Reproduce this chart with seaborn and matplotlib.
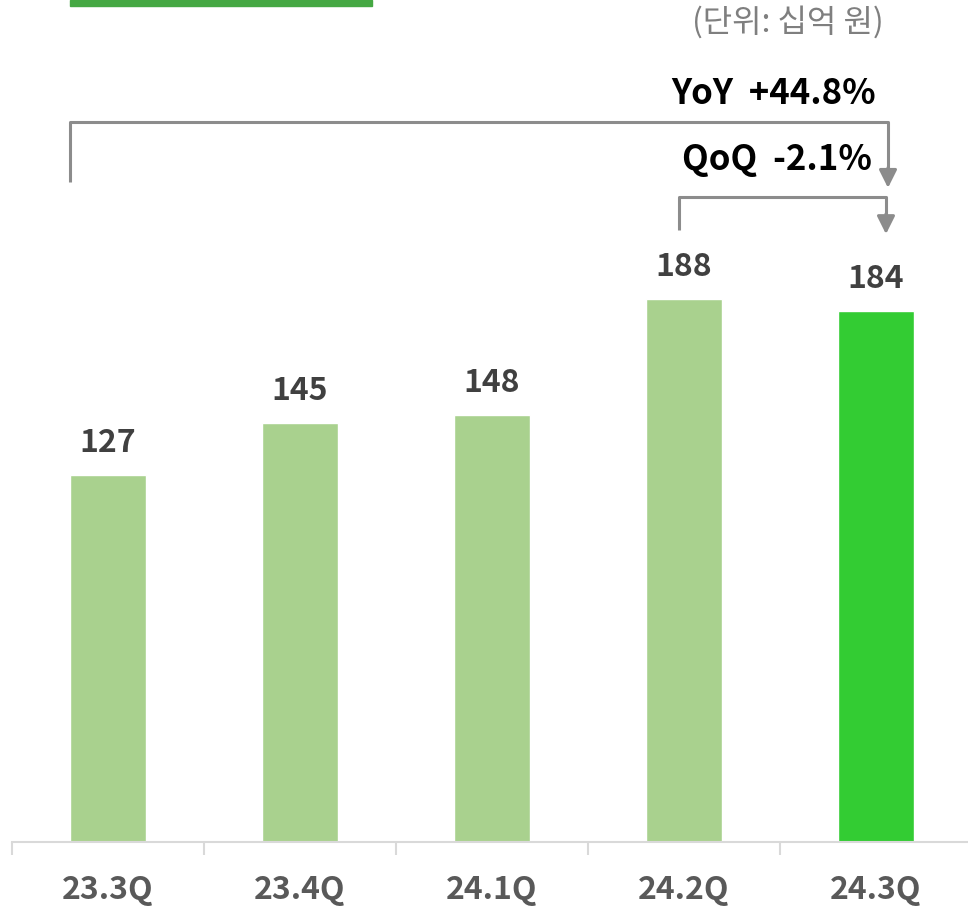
import matplotlib
matplotlib.use("Agg")
import matplotlib.pyplot as plt
import seaborn as sns
import pandas as pd
from matplotlib.patches import Rectangle

quarters = ["23.3Q", "23.4Q", "24.1Q", "24.2Q", "24.3Q"]
values = [127, 145, 148, 188, 184]
bar_colors = ["#A9D18E", "#A9D18E", "#A9D18E", "#A9D18E", "#33CC33"]
yoy_label = "YoY  +44.8%"
qoq_label = "QoQ  -2.1%"
unit_label = "(단위: 십억 원)"

sns.set_theme(style="white")
plt.rcParams["font.family"] = ["Noto Sans CJK KR", "DejaVu Sans"]

df = pd.DataFrame({"quarter": quarters, "value": values})

fig = plt.figure(figsize=(9.68, 9.10), dpi=100)
# axes: x from 12px to 972px, y baseline at 842px, top at 0px
ax = fig.add_axes([12 / 968, 68 / 910, 960 / 968, 842 / 910])

sns.barplot(data=df, x="quarter", y="value", hue="quarter",
            palette=bar_colors, width=0.4, legend=False, ax=ax, saturation=1)

ax.set_xlim(-0.5, 4.5)
ax.set_ylim(0, 842 / 2.888)

for i, v in enumerate(values):
    ax.text(i, v + 5.5, f"{v}", ha="center", va="bottom",
            fontsize=23, fontweight="bold", color="#404040")

# spines / ticks
for s in ["left", "top", "right"]:
    ax.spines[s].set_visible(False)
ax.spines["bottom"].set_color("#D9D9D9")
ax.spines["bottom"].set_linewidth(1.5)
ax.set_yticks([])
ax.set_xlabel("")
ax.set_ylabel("")
ax.set_xticks(range(len(quarters)))
ax.set_xticklabels(quarters, fontsize=23, fontweight="bold", color="#595959")
ax.tick_params(axis="x", which="major", length=0, pad=23)
ax.set_xticks([i - 0.5 for i in range(len(quarters) + 1)], minor=True)
ax.tick_params(axis="x", which="minor", length=9, width=1.5, color="#D9D9D9",
               bottom=True)

# brackets
gray = "#8C8C8C"
def bracket(x0, x1, y_top, y_left, y_tip):
    ax.plot([x0, x0, x1, x1], [y_left, y_top, y_top, y_tip + 6],
            color=gray, lw=2.2, solid_capstyle="butt", clip_on=False)
    ax.annotate("", xy=(x1, y_tip), xytext=(x1, y_tip + 7),
                arrowprops=dict(arrowstyle="-|>,head_length=0.9,head_width=0.45",
                                color=gray, lw=2.2, shrinkA=0, shrinkB=0))

bracket(-0.198, 4.0625, 249.3, 228.5, 226.5)
bracket(2.974, 4.052, 223.3, 211.9, 210.5)

ax.text(4.0, 259.3, yoy_label, ha="right", va="center", fontsize=25,
        fontweight="bold", color="black")
ax.text(3.98, 236.2, qoq_label, ha="right", va="center", fontsize=25,
        fontweight="bold", color="black")

# header decorations
fig.patches.append(Rectangle((70 / 968, 904 / 910), 302 / 968, 6 / 910,
                             transform=fig.transFigure, color="#45A843"))
fig.text(884 / 968, 1 - 22 / 910, unit_label, ha="right", va="center",
         fontsize=23, color="#7F7F7F")

fig.savefig("out.png", dpi=100)
